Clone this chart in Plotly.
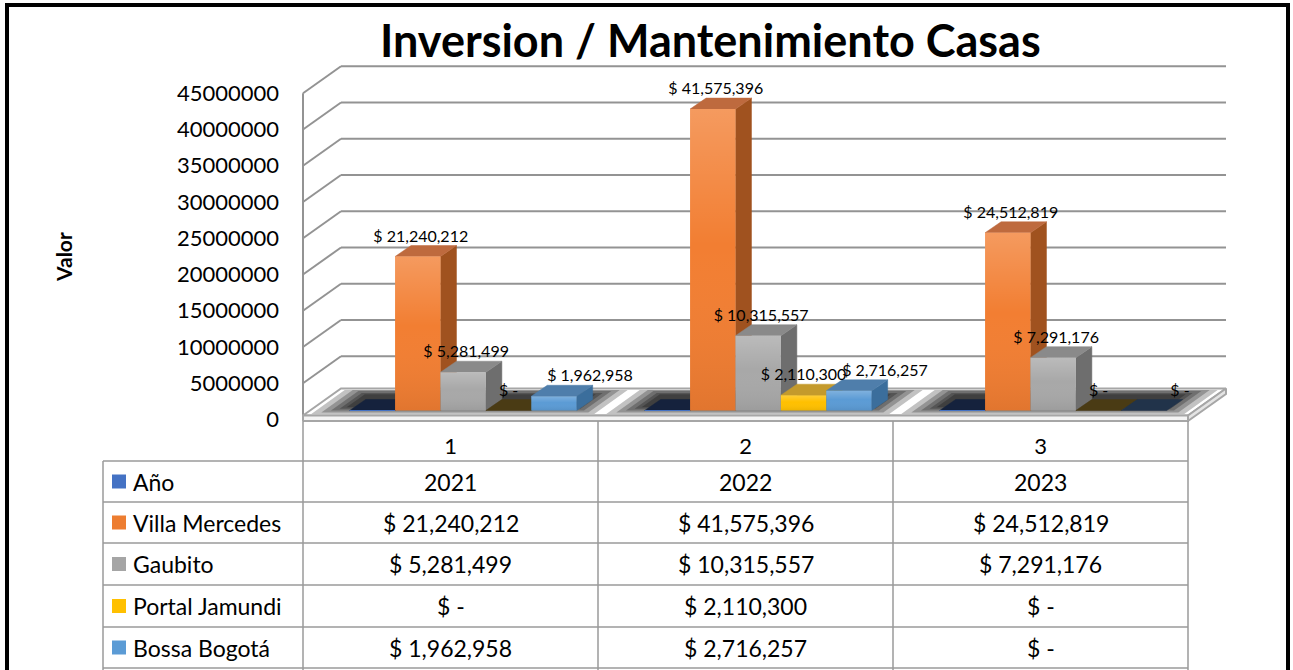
import plotly.graph_objects as go

# ---- data ----
categories = ["1", "2", "3"]
years = [2021, 2022, 2023]
series_names = ["Año", "Villa Mercedes", "Gaubito", "Portal Jamundi", "Bossa Bogotá"]
villa_mercedes = [21240212, 41575396, 24512819]
gaubito = [5281499, 10315557, 7291176]
portal_jamundi = [0, 2110300, 0]
bossa_bogota = [1962958, 2716257, 0]
y_ticks = [0, 5000000, 10000000, 15000000, 20000000, 25000000, 30000000, 35000000, 40000000, 45000000]

series_values = [years, villa_mercedes, gaubito, portal_jamundi, bossa_bogota]
money_series = [False, True, True, True, True]

# ---- style ----
front_colors = ["#4472C4", "#F27E32", "#A8A8A8", "#FFC000", "#5B9BD5"]
side_colors = ["#1A2B4C", "#A0521F", "#6E6E6E", "#B88A00", "#3B6E9C"]
top_colors = ["#15223D", "#BE6A3E", "#8A8A8A", "#C49A2C", "#4F7EAB"]
flat_colors = ["#15223D", "#6B3A14", "#555555", "#4A3B14", "#21334A"]
swatch_colors = ["#4472C4", "#ED7D31", "#A5A5A5", "#FFC000", "#5B9BD5"]
label_shift_px = [0, -5, -5, -8, 28]
FONT = "Lato"

# pixel geometry of the plot area (page margin removed below)
FIG_W, FIG_H = 1293, 670
L, R, T, B = 300, 1293, 55, 425
PX_CAT = 295.0          # pixels per category
CAT0_PX = 450.5         # pixel of first category centre
Y0_PX = 419.5           # pixel of value 0 on the front plane
PX_PER_UNIT = 7.25e-6   # pixels per value unit

XMIN = (L - CAT0_PX) / PX_CAT
XMAX = (R - CAT0_PX) / PX_CAT
YMIN = -(B - Y0_PX) / PX_PER_UNIT
YMAX = (Y0_PX - T) / PX_PER_UNIT


def dx(px):
    return px / PX_CAT


def dv(px_up):
    return px_up / PX_PER_UNIT


def xp(x):  # data x -> paper
    return (x - XMIN) / (XMAX - XMIN)


def xpp(px):  # pixel x -> paper
    return (px - L) / (R - L)


def ypp(py):  # pixel y -> paper
    return (B - py) / (B - T)


def money(v):
    return "$ -" if v == 0 else f"$ {v:,.0f}"


WALL_DX, WALL_DV = dx(38), dv(27)
BAR_W = dx(45.4)
BAR_SHIFT_X, BAR_SHIFT_V = WALL_DX / 3, WALL_DV / 3
BAR_DX, BAR_DV = dx(16), dv(11)
FLOOR_TOP, FLOOR_BOT = dv(4), dv(-1.5)
X_LEFT, X_RIGHT = -0.5, len(categories) - 0.5
n_series = len(series_names)
vmax = max(max(v) for v in series_values[1:])

fig = go.Figure()

# floor slab
def floor_pt(x, f):
    return x + f * WALL_DX, FLOOR_TOP + f * WALL_DV

fx, fy = zip(floor_pt(X_LEFT, 0), floor_pt(X_RIGHT, 0), floor_pt(X_RIGHT, 1), floor_pt(X_LEFT, 1), floor_pt(X_LEFT, 0))
fig.add_trace(go.Scatter(x=list(fx), y=list(fy), fill="toself", fillcolor="#FFFFFF", mode="lines",
                         line=dict(color="#A6A6A6", width=2), hoverinfo="skip", showlegend=False, zorder=1))
fig.add_trace(go.Scatter(x=[X_LEFT, X_RIGHT, X_RIGHT, X_LEFT, X_LEFT],
                         y=[FLOOR_BOT, FLOOR_BOT, FLOOR_TOP, FLOOR_TOP, FLOOR_BOT],
                         fill="toself", fillcolor="#F4F4F4", mode="lines",
                         line=dict(color="#A6A6A6", width=2), hoverinfo="skip", showlegend=False, zorder=1))
fig.add_trace(go.Scatter(x=[X_RIGHT, X_RIGHT + WALL_DX, X_RIGHT + WALL_DX, X_RIGHT, X_RIGHT],
                         y=[FLOOR_BOT, FLOOR_BOT + WALL_DV, FLOOR_TOP + WALL_DV, FLOOR_TOP, FLOOR_BOT],
                         fill="toself", fillcolor="#E4E4E4", mode="lines",
                         line=dict(color="#A6A6A6", width=2), hoverinfo="skip", showlegend=False, zorder=1))

# soft shadow of the bar groups on the floor
f0 = 1 / 3
f1 = f0 + BAR_DX / WALL_DX
for ext_px, g in [(28, 0.3), (20, 0.22), (13, 0.15), (7, 0.08), (2, 0.03)]:
    sx, sy = [], []
    for c in range(len(categories)):
        a = c - 2.5 * BAR_W - dx(ext_px)
        b = c + 2.5 * BAR_W + dx(ext_px)
        lo, hi = max(0.06, f0 - g), min(0.94, f1 + g)
        pts = [floor_pt(a, lo), floor_pt(b, lo), floor_pt(b, hi), floor_pt(a, hi), floor_pt(a, lo)]
        sx += [p[0] for p in pts] + [None]
        sy += [p[1] for p in pts] + [None]
    fig.add_trace(go.Scatter(x=sx, y=sy, fill="toself", fillcolor="rgba(0,0,0,0.24)", mode="none",
                             hoverinfo="skip", showlegend=False, zorder=2))

# bars
for s in range(n_series):
    vals = series_values[s]
    centers = [c + BAR_SHIFT_X + (s - 2) * BAR_W for c in range(len(categories))]
    side_x, side_y, top_x, top_y, flat_x, flat_y = [], [], [], [], [], []
    shade = []
    for xc, v in zip(centers, vals):
        x0, x1 = xc - BAR_W / 2, xc + BAR_W / 2
        b0 = BAR_SHIFT_V
        top = b0 + v
        poly_top = ([x0, x1, x1 + BAR_DX, x0 + BAR_DX, x0], [top, top, top + BAR_DV, top + BAR_DV, top])
        if v < 0.002 * vmax:
            flat_x += poly_top[0] + [None]
            flat_y += poly_top[1] + [None]
            continue
        side_x += [x1, x1 + BAR_DX, x1 + BAR_DX, x1, x1, None]
        side_y += [b0, b0 + BAR_DV, top + BAR_DV, top, b0, None]
        top_x += poly_top[0] + [None]
        top_y += poly_top[1] + [None]
        shade.append((x0, x1, b0, top))
    for px_, py_, col in [(side_x, side_y, side_colors[s]), (top_x, top_y, top_colors[s]),
                          (flat_x, flat_y, flat_colors[s])]:
        if px_:
            fig.add_trace(go.Scatter(x=px_, y=py_, fill="toself", fillcolor=col, mode="lines",
                                     line=dict(color=col, width=0.5), hoverinfo="skip",
                                     showlegend=False, zorder=10 + 2 * s))
    fig.add_trace(go.Bar(x=centers, y=vals, base=[BAR_SHIFT_V] * len(vals), width=BAR_W,
                         marker=dict(color=front_colors[s], line=dict(width=0)),
                         name=series_names[s], showlegend=False, zorder=11 + 2 * s,
                         hovertemplate=series_names[s] + ": %{y:,}<extra></extra>"))
    # light-to-dark sheen over each front face
    for x0, x1, b0, top in shade:
        fig.add_trace(go.Scatter(
            x=[x0, x1, x1, x0, x0], y=[b0, b0, top, top, b0], mode="none", fill="toself",
            fillgradient=dict(type="vertical", start=b0, stop=top,
                              colorscale=[[0, "rgba(0,0,0,0.07)"], [0.55, "rgba(255,255,255,0)"],
                                          [1, "rgba(255,255,255,0.22)"]]),
            hoverinfo="skip", showlegend=False, zorder=11 + 2 * s))
    if money_series[s]:
        fig.add_trace(go.Scatter(
            x=[xc + BAR_DX / 2 + dx(label_shift_px[s]) for xc in centers],
            y=[BAR_SHIFT_V + v + BAR_DV for v in vals],
            mode="text", text=[money(v) for v in vals], textposition="top center",
            textfont=dict(family=FONT, size=16, color="black"), cliponaxis=False,
            hoverinfo="skip", showlegend=False, zorder=40))

# walls: gridlines
shapes = []
grid = dict(color="#939393", width=2)
shapes.append(dict(type="line", xref="x", yref="y", x0=X_LEFT, x1=X_LEFT, y0=0, y1=y_ticks[-1],
                   line=grid, layer="below"))
for v in y_ticks:
    shapes.append(dict(type="line", xref="x", yref="y", x0=X_LEFT, y0=v,
                       x1=X_LEFT + WALL_DX, y1=v + WALL_DV, line=grid, layer="below"))
    if v > 0:
        shapes.append(dict(type="line", xref="x", yref="y", x0=X_LEFT + WALL_DX, y0=v + WALL_DV,
                           x1=X_RIGHT + WALL_DX, y1=v + WALL_DV, line=grid, layer="below"))

# data table
tbl = dict(color="#9A9A9A", width=1.5)
row_edges = [461, 502, 543, 585, 627, 668]
TBL_LEFT = 103
for py in row_edges:
    shapes.append(dict(type="line", xref="paper", yref="paper", x0=xpp(TBL_LEFT), x1=xp(X_RIGHT),
                       y0=ypp(py), y1=ypp(py), line=tbl))
for c in range(len(categories) + 1):
    xv = xp(X_LEFT + c)
    shapes.append(dict(type="line", xref="paper", yref="paper", x0=xv, x1=xv,
                       y0=ypp(421), y1=ypp(680), line=tbl))
shapes.append(dict(type="line", xref="paper", yref="paper", x0=xpp(TBL_LEFT), x1=xpp(TBL_LEFT),
                   y0=ypp(row_edges[0]), y1=ypp(680), line=tbl))

annotations = []
for r in range(n_series):
    yc = (row_edges[r] + row_edges[r + 1]) / 2
    shapes.append(dict(type="rect", xref="paper", yref="paper", x0=xpp(112), x1=xpp(126),
                       y0=ypp(yc - 7), y1=ypp(yc + 7), fillcolor=swatch_colors[r], line=dict(width=0)))
    annotations.append(dict(xref="paper", yref="paper", x=xpp(131), y=ypp(yc), text=series_names[r],
                            showarrow=False, xanchor="left", yanchor="middle",
                            font=dict(family=FONT, size=23, color="black")))
    for c in range(len(categories)):
        v = series_values[r][c]
        annotations.append(dict(xref="paper", yref="paper", x=xp(c), y=ypp(yc),
                                text=money(v) if money_series[r] else str(v),
                                showarrow=False, xanchor="center", yanchor="middle",
                                font=dict(family=FONT, size=23, color="black")))

# title and axis title
annotations.append(dict(xref="paper", yref="paper", x=xpp(710), y=ypp(40),
                        text="<b>Inversion / Mantenimiento Casas</b>", showarrow=False,
                        xanchor="center", yanchor="middle", font=dict(family=FONT, size=45, color="black")))
annotations.append(dict(xref="paper", yref="paper", x=xpp(63), y=ypp(257), text="<b>Valor</b>",
                        textangle=-90, showarrow=False, xanchor="center", yanchor="middle",
                        font=dict(family=FONT, size=21, color="black")))

# outer frame
frame = dict(color="black", width=4)
shapes.append(dict(type="line", xref="paper", yref="paper", x0=xpp(7), x1=xpp(7), y0=ypp(3), y1=ypp(680), line=frame))
shapes.append(dict(type="line", xref="paper", yref="paper", x0=xpp(5), x1=xpp(1290), y0=ypp(5), y1=ypp(5), line=frame))
shapes.append(dict(type="line", xref="paper", yref="paper", x0=xpp(1288), x1=xpp(1288), y0=ypp(3), y1=ypp(680), line=frame))

fig.update_layout(
    width=FIG_W, height=FIG_H,
    margin=dict(l=L, r=FIG_W - R, t=T, b=FIG_H - B),
    barmode="overlay",
    plot_bgcolor="white", paper_bgcolor="white",
    font=dict(family=FONT, color="black"),
    showlegend=False,
    shapes=shapes,
    annotations=annotations,
    xaxis=dict(range=[XMIN, XMAX], tickvals=list(range(len(categories))), ticktext=categories,
               showgrid=False, zeroline=False, showline=False, ticks="", ticklabelstandoff=6,
               tickfont=dict(family=FONT, size=22, color="black"), fixedrange=True),
    yaxis=dict(range=[YMIN, YMAX], tickvals=y_ticks, ticktext=[str(v) for v in y_ticks],
               showgrid=False, zeroline=False, showline=False, ticks="", ticklabelstandoff=20,
               tickfont=dict(family=FONT, size=22, color="black"), fixedrange=True),
)

fig.write_html("out.html", config={"displayModeBar": False},
               post_script="document.body.style.margin='0';document.body.style.overflow='hidden';")
